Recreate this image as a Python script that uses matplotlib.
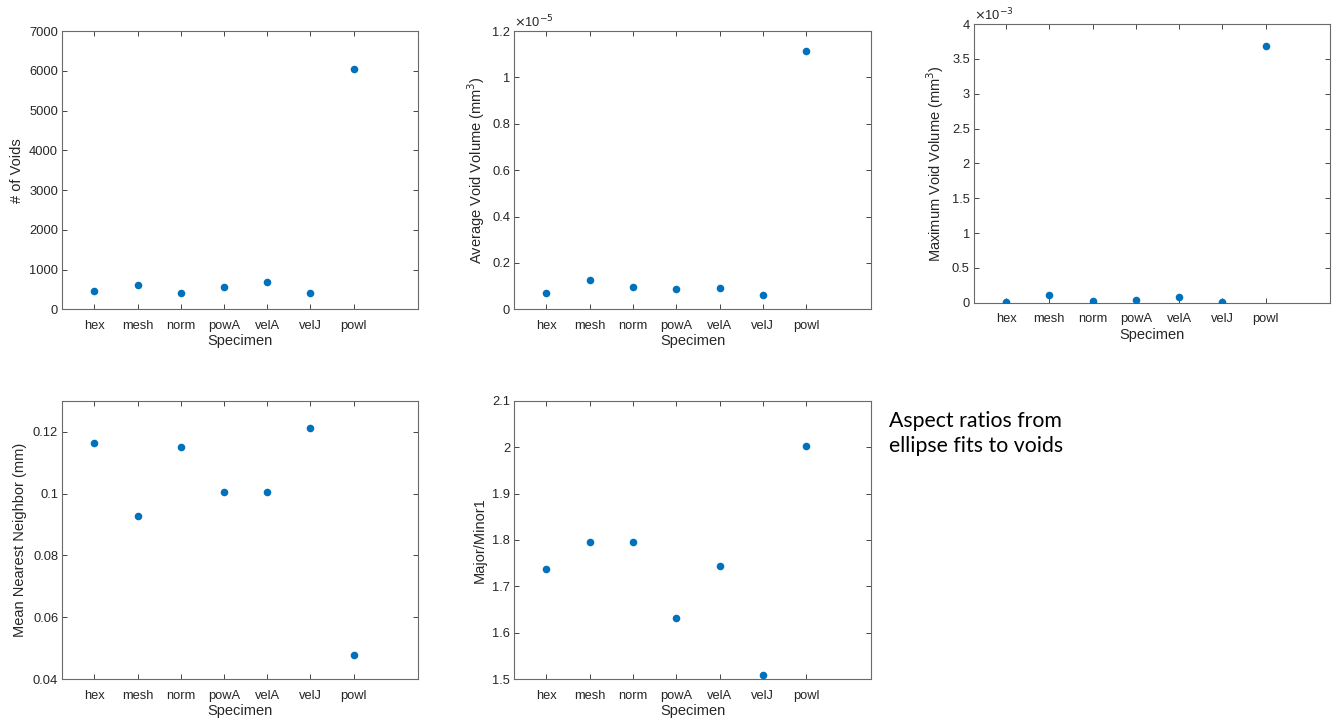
import matplotlib
matplotlib.use("Agg")
import matplotlib.pyplot as plt
from matplotlib.ticker import FuncFormatter, FixedLocator

specimens = ["hex", "mesh", "norm", "powA", "velA", "velJ", "powl"]
num_voids = [461, 612, 411, 570, 696, 419, 6050]
avg_void_volume = [0.0704e-5, 0.128e-5, 0.0949e-5, 0.0877e-5, 0.0934e-5, 0.0604e-5, 1.112e-5]
max_void_volume = [0.0096e-3, 0.105e-3, 0.019e-3, 0.038e-3, 0.086e-3, 0.005e-3, 3.684e-3]
mean_nearest_neighbor = [0.1162, 0.0928, 0.1149, 0.1005, 0.1006, 0.1212, 0.0478]
major_minor = [1.737, 1.796, 1.795, 1.632, 1.744, 1.510, 2.002]

plt.rcParams['font.family'] = ['Liberation Sans', 'DejaVu Sans']
W, H = 1339, 726
fig = plt.figure(figsize=(W / 100, H / 100), dpi=100)

TXT = '#262626'
BLUE = '#0072BD'

def make_ax(l, r, t, b):
    return fig.add_axes([l / W, 1 - b / H, (r - l) / W, (b - t) / H])

def style(ax, yticks, ylim, ylabel, fmt=None, exponent=None):
    x = list(range(1, len(specimens) + 1))
    ax.set_xlim(0.26, 8.49)
    ax.set_ylim(*ylim)
    ax.xaxis.set_major_locator(FixedLocator(x))
    ax.set_xticklabels(specimens)
    ax.yaxis.set_major_locator(FixedLocator(yticks))
    if fmt is not None:
        ax.yaxis.set_major_formatter(FuncFormatter(fmt))
    else:
        ax.yaxis.set_major_formatter(FuncFormatter(lambda v, p: '%g' % round(v, 6)))
    ax.tick_params(direction='in', length=3.5, width=0.6, top=True, right=True,
                   labelsize=9.3, colors=TXT)
    ax.tick_params(axis='x', pad=7.5)
    ax.tick_params(axis='y', pad=3)
    for s in ax.spines.values():
        s.set_color('#6a6a6a')
        s.set_linewidth(0.8)
    ax.set_xlabel('Specimen', fontsize=10.5, color=TXT, labelpad=2)
    ax.set_ylabel(ylabel, fontsize=10.5, color=TXT, labelpad=4)
    if exponent is not None:
        ax.text(0.0, 1.004, r'$\times$10$^{%d}$' % exponent, transform=ax.transAxes,
                fontsize=9.3, color=TXT, ha='left', va='bottom')

xs = list(range(1, len(specimens) + 1))

ax1 = make_ax(62.3, 418, 31, 309.3)
ax1.scatter(xs, num_voids, s=30, color=BLUE, zorder=3, linewidths=0)
style(ax1, list(range(0, 7001, 1000)), (0, 7000), '# of Voids')

ax2 = make_ax(514.3, 870.7, 31, 309.3)
ax2.scatter(xs, avg_void_volume, s=30, color=BLUE, zorder=3, linewidths=0)
style(ax2, [i * 0.2e-5 for i in range(7)], (0, 1.2e-5), r'Average Void Volume (mm$^3$)',
      fmt=lambda v, p: '%g' % round(v / 1e-5, 6), exponent=-5)

ax3 = make_ax(974, 1330, 24, 302.7)
ax3.scatter(xs, max_void_volume, s=30, color=BLUE, zorder=3, linewidths=0)
style(ax3, [i * 0.5e-3 for i in range(9)], (0, 4e-3), r'Maximum Void Volume (mm$^3$)',
      fmt=lambda v, p: '%g' % round(v / 1e-3, 6), exponent=-3)

ax4 = make_ax(62.3, 418, 400.7, 679.3)
ax4.scatter(xs, mean_nearest_neighbor, s=30, color=BLUE, zorder=3, linewidths=0)
style(ax4, [0.04, 0.06, 0.08, 0.10, 0.12], (0.04, 0.13), 'Mean Nearest Neighbor (mm)')

ax5 = make_ax(514.3, 870.7, 400.7, 679.3)
ax5.scatter(xs, major_minor, s=30, color=BLUE, zorder=3, linewidths=0)
style(ax5, [1.5, 1.6, 1.7, 1.8, 1.9, 2.0, 2.1], (1.5, 2.1), 'Major/Minor1')

fig.text(889 / W, 1 - 411 / H, 'Aspect ratios from\nellipse fits to voids',
         fontsize=15.3, family=['Lato', 'DejaVu Sans'], color='black',
         ha='left', va='top', linespacing=1.3)

fig.savefig('out.png', dpi=100)
